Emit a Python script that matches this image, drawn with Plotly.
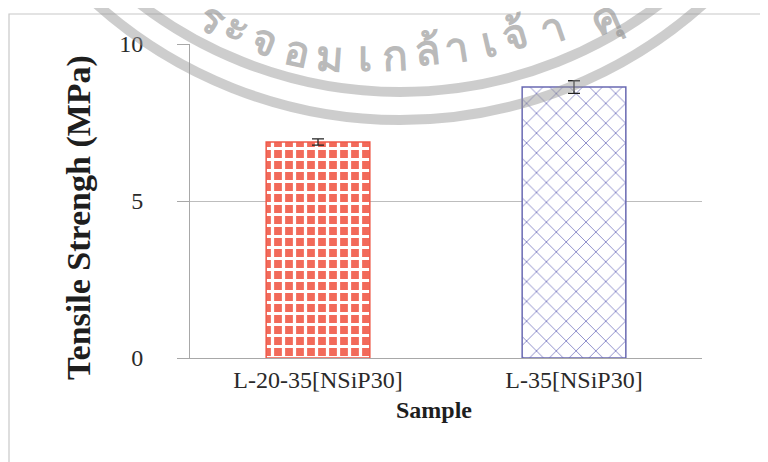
import plotly.graph_objects as go

categories = ["L-20-35[NSiP30]", "L-35[NSiP30]"]
tensile = [6.88, 8.63]
errors = [0.10, 0.20]
y_ticks = [0, 5, 10]

# plot-area geometry in page pixels (page body has an 8px margin)
OFF = 8
L, R, T, B = 190, 702, 44, 358
W, H = 768, 462
def px(x):
    return (x - L) / (R - L)
def py(y):
    return (B - y) / (B - T)

fig = go.Figure()
fig.add_trace(go.Bar(
    x=[categories[0]], y=[tensile[0]],
    error_y=dict(type="data", array=[errors[0]], color="#222222", thickness=1.3, width=6),
    marker=dict(color="#f26a5a",
                pattern=dict(shape="+", fgcolor="white", bgcolor="#f26a5a", size=11, solidity=0.5, fillmode="replace"),
                line=dict(color="#ee5a4a", width=1.5)),
    width=0.405, showlegend=False,
))
fig.add_trace(go.Bar(
    x=[categories[1]], y=[tensile[1]],
    error_y=dict(type="data", array=[errors[1]], color="#222222", thickness=1.3, width=6),
    marker=dict(color="white",
                pattern=dict(shape="x", fgcolor="#7f7fc4", bgcolor="white", size=14, solidity=0.12, fillmode="replace"),
                line=dict(color="#6a6ab2", width=1.5)),
    width=0.405, showlegend=False,
))

shapes = []
# outer chart border
shapes.append(dict(type="rect", xref="paper", yref="paper",
                   x0=px(9), x1=px(766), y0=py(480), y1=py(14),
                   line=dict(color="#c8c8c8", width=1.2), fillcolor="rgba(0,0,0,0)", layer="below"))
# watermark arcs (decorative seal)
cx, cy = 400, -335
for r in (455, 427):
    shapes.append(dict(type="circle", xref="paper", yref="paper",
                       x0=px(cx - r), x1=px(cx + r), y0=py(cy + r), y1=py(cy - r),
                       line=dict(color="rgba(150,150,150,0.48)", width=10), layer="above"))

annotations = [
    dict(text="<b>Tensile Strengh (MPa)</b>", x=px(79), y=py(218), xref="paper", yref="paper",
         textangle=-90, showarrow=False, font=dict(family="Liberation Serif", size=34, color="#1e1e1e"),
         xanchor="center", yanchor="middle"),
    dict(text="<b>Sample</b>", x=px(434), y=py(410), xref="paper", yref="paper",
         showarrow=False, font=dict(family="Liberation Serif", size=24, color="#1e1e1e"),
         xanchor="center", yanchor="middle"),
]
# watermark text (seal lettering), page-pixel centres and tangent angles
wm_text = ["ร", "ะ", "จ", "อ", "ม", "เ", "ก", "ล้", "า", "เ", "จ้", "า", "คุ"]
wm_x = [213, 238, 265, 297, 330, 365, 394, 427, 456, 488, 514, 552, 604]
wm_y = [16, 25, 39, 49, 54, 54, 53, 48, 45, 40, 33, 26, 16]
wm_ang = [32, 28, 22, 12, 4, 0, -3, -6, -9, -13, -16, -19, -24]
for ch, xx, yy, a in zip(wm_text, wm_x, wm_y, wm_ang):
    annotations.append(dict(text="<b>" + ch + "</b>", x=px(xx), y=py(yy), xref="paper", yref="paper",
                            showarrow=False, textangle=a,
                            font=dict(family="Noto Sans", size=42, color="rgba(140,140,140,0.6)"),
                            xanchor="center", yanchor="middle"))

fig.update_layout(
    width=W, height=H,
    margin=dict(l=L - OFF, r=W - (R - OFF), t=T - OFF, b=H - (B - OFF)),
    paper_bgcolor="white", plot_bgcolor="white",
    font=dict(family="Liberation Serif", size=24, color="#2a2a2a"),
    shapes=shapes, annotations=annotations,
    bargap=0.6,
)
fig.update_yaxes(range=[0, 10], tickvals=y_ticks, showgrid=True, gridcolor="#bdbdbd", gridwidth=1,
                 showline=True, linecolor="#a8a8a8", linewidth=1, ticks="outside", ticklen=12,
                 tickcolor="#a8a8a8", zeroline=False, ticklabelstandoff=29,
                 tickfont=dict(family="Liberation Serif", size=24, color="#2a2a2a"))
fig.update_xaxes(showline=True, linecolor="#a8a8a8", linewidth=1.2, ticks="", showgrid=False,
                 tickfont=dict(family="Liberation Serif", size=24, color="#2a2a2a"))

fig.write_html("out.html")
